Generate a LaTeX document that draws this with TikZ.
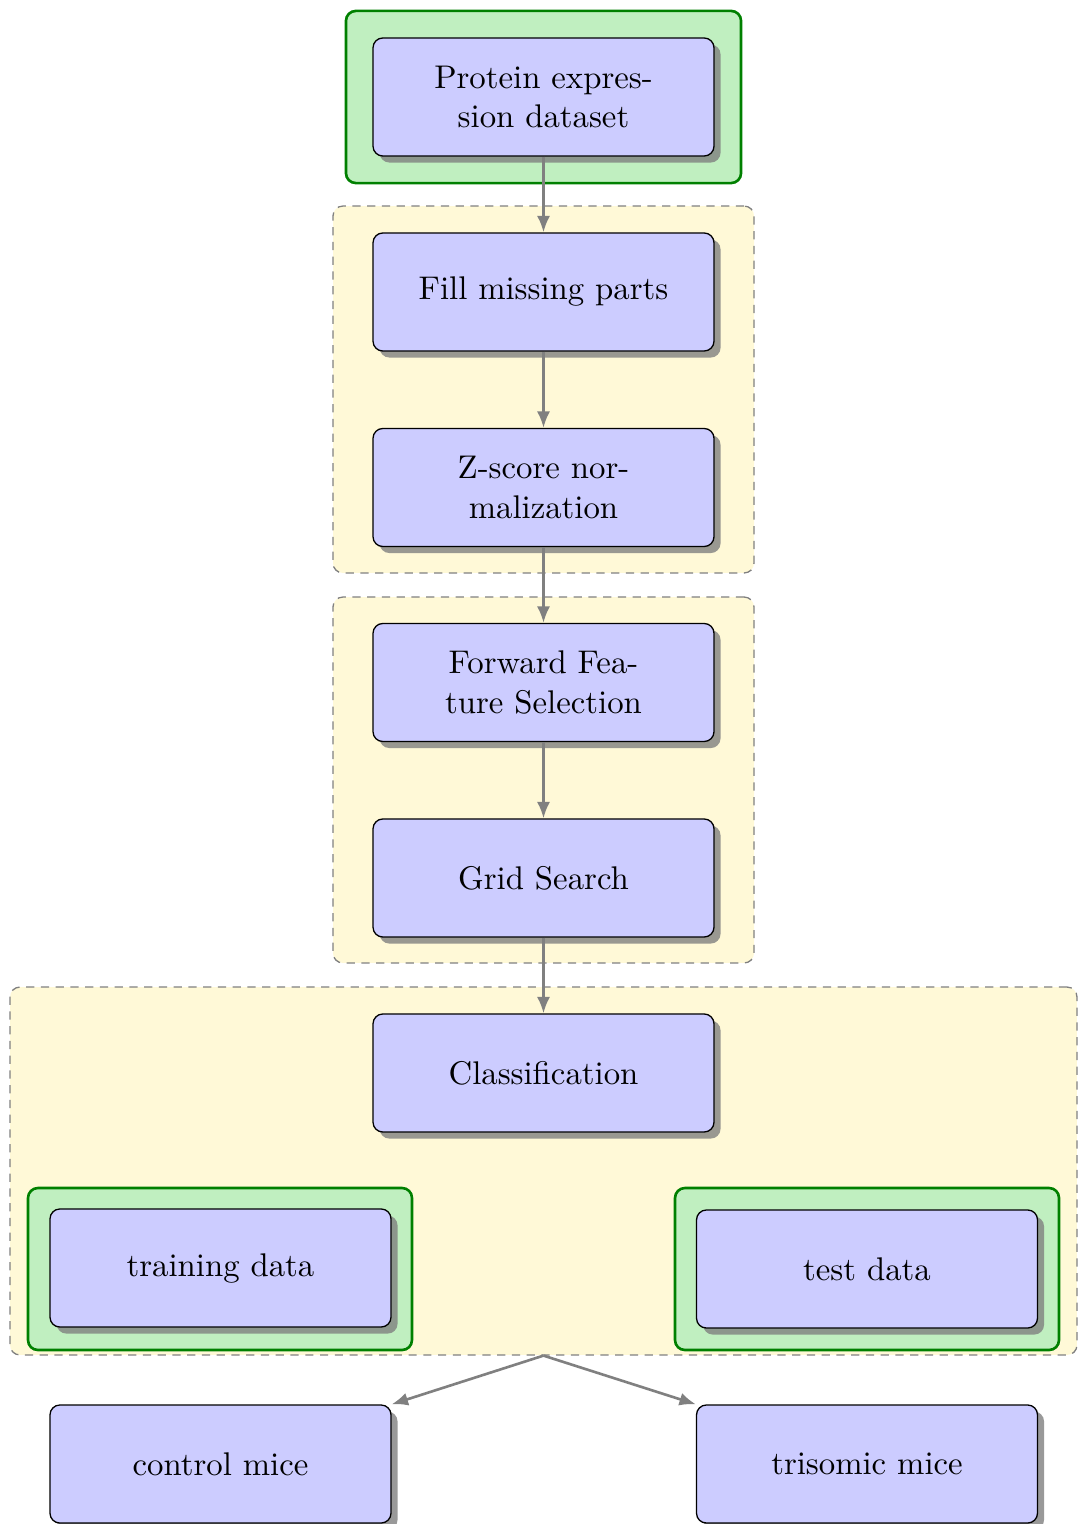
\documentclass[tikz,border=0pt]{standalone}
\usetikzlibrary{shadows,arrows.meta}
\definecolor{grpyellow}{RGB}{255,249,215}
\definecolor{grpgreen}{RGB}{192,239,192}
\definecolor{grpgreenline}{RGB}{0,128,0}
\definecolor{boxblue}{RGB}{204,204,255}
\begin{document}
\begin{tikzpicture}[x=0.305pt,y=-0.305pt,
  stepbox/.style={draw=black, line width=0.4pt, fill=boxblue, rounded corners=3pt,
    minimum width=104pt, minimum height=36pt, inner sep=2pt, align=center,
    drop shadow={fill=black!50, opacity=0.8, shadow xshift=2pt, shadow yshift=-2pt}},
  yellowgrp/.style={draw=gray, dash pattern=on 2.5pt off 2pt, line width=0.4pt, fill=grpyellow,
    rounded corners=3pt, inner sep=0pt},
  greengrp/.style={draw=grpgreenline, line width=0.8pt, fill=grpgreen, rounded corners=3pt, inner sep=0pt},
  flow/.style={draw=gray, line width=0.8pt, -{Latex[length=5pt,width=4pt]}}
]
\useasboundingbox (0,0) rectangle (1077,1524);

% groups
\node[greengrp, minimum width=120.5pt, minimum height=52.5pt] (g0) at (543.5,97) {};
\node[yellowgrp, minimum width=128.4pt, minimum height=111.9pt] (g1) at (543.5,389.5) {};
\node[yellowgrp, minimum width=128.4pt, minimum height=111.6pt] (g2) at (543.5,780) {};
\node[yellowgrp, minimum width=325.4pt, minimum height=112.2pt] (g3) at (543.5,1171) {};
\node[greengrp, minimum width=117.1pt, minimum height=49.4pt] (gtr) at (220,1269) {};
\node[greengrp, minimum width=117.1pt, minimum height=49.4pt] (gte) at (867,1269) {};

% steps
\node[stepbox] (ds) at (543.5,97) {Protein expres-\\sion dataset};
\node[stepbox] (fill) at (543.5,292) {Fill missing parts};
\node[stepbox] (zs) at (543.5,487.5) {Z-score nor-\\malization};
\node[stepbox] (ffs) at (543.5,682.5) {Forward Fea-\\ture Selection};
\node[stepbox] (grid) at (543.5,878) {Grid Search};
\node[stepbox] (cls) at (543.5,1073) {Classification};
\node[stepbox] (train) at (220.5,1268) {training data};
\node[stepbox] (test) at (867,1269) {test data};
\node[stepbox] (ctrl) at (220.5,1464) {control mice};
\node[stepbox] (tri) at (867,1464) {trisomic mice};

% connectors
\draw[flow] (ds) -- (fill);
\draw[flow] (fill) -- (zs);
\draw[flow] (zs) -- (ffs);
\draw[flow] (ffs) -- (grid);
\draw[flow] (grid) -- (cls);
\coordinate (split) at (g3.south);
\draw[flow] (split) -- (ctrl.north east);
\draw[flow] (split) -- (tri.north west);
\end{tikzpicture}
\end{document}
